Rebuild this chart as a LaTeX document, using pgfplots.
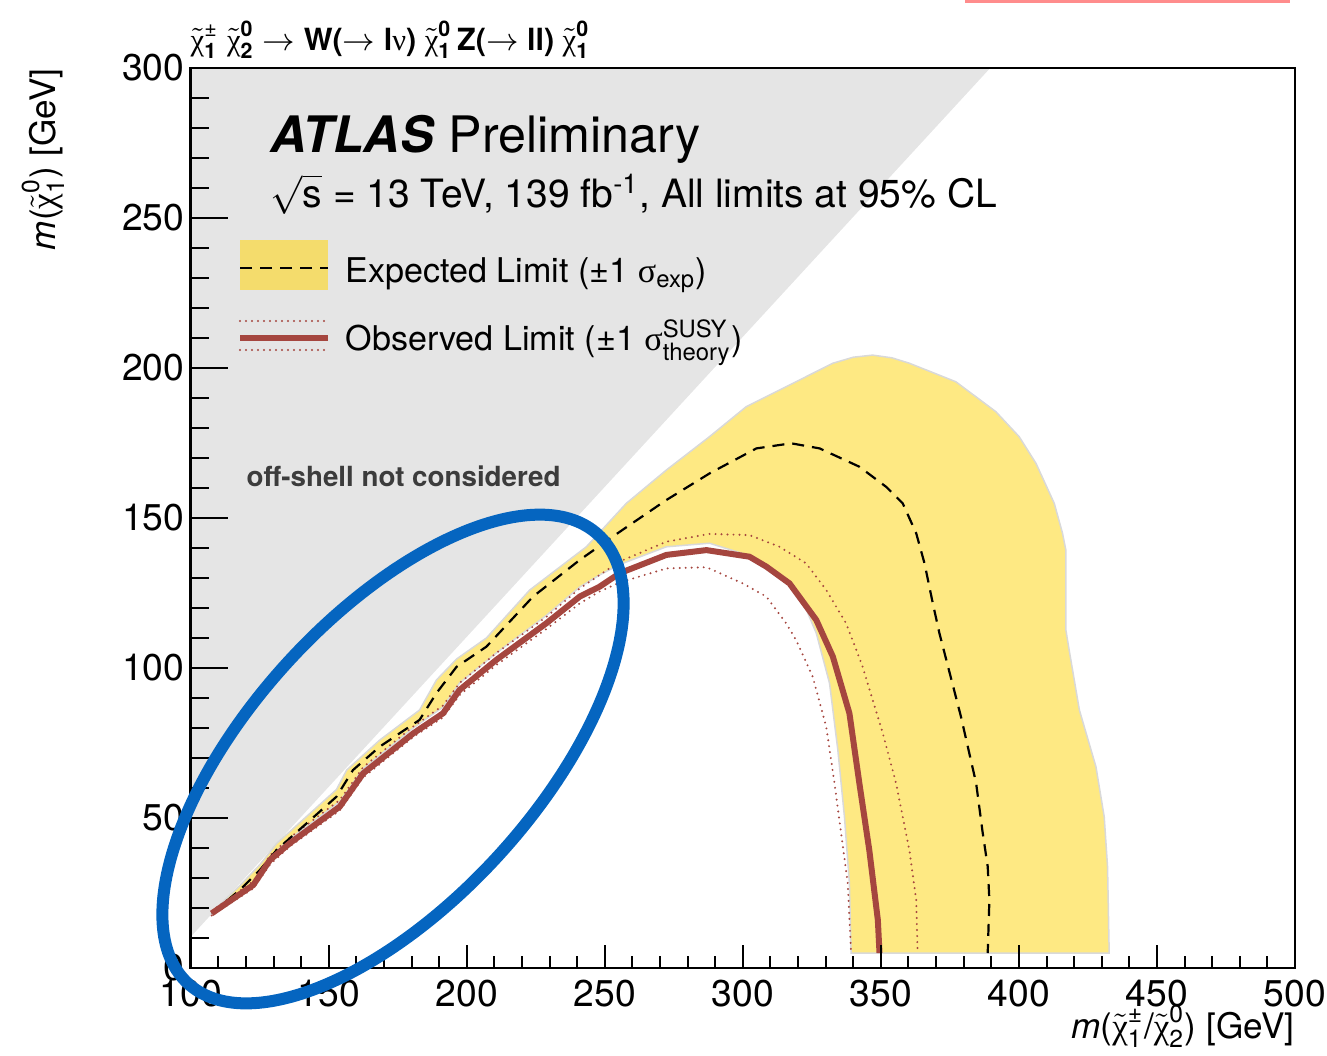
\documentclass[border=0pt]{standalone}
\usepackage{amsmath}
\usepackage{fontspec}
\setmainfont{TeX Gyre Heros}
\newfontfamily\symb{Liberation Serif}
\usepackage{pgfplots}
\pgfplotsset{compat=1.18}
\definecolor{band}{HTML}{FEE983}
\definecolor{bandleg}{HTML}{F4DC6C}
\definecolor{obs}{HTML}{A5463F}
\definecolor{offsh}{HTML}{E5E5E5}
\definecolor{ell}{HTML}{0565C0}
\definecolor{txtgray}{HTML}{3C3C3C}
\newcommand{\chit}[2]{\ensuremath{\tilde{\text{\symb χ}}^{\text{#1}}_{\text{#2}}}}
\tikzset{dotl/.style={obs, line width=0.22mm, line cap=round, dash pattern=on 0pt off 0.6mm}}
\begin{document}
\begin{tikzpicture}
\begin{axis}[
  at={(19.07mm,-96.8mm)}, anchor=south west,
  scale only axis, width=110.43mm, height=90mm,
  xmin=100, xmax=500, ymin=0, ymax=300,
  xtick={100,150,...,500}, ytick={0,50,...,300},
  minor x tick num=4, minor y tick num=4,
  tick align=inside, tick pos=left,
  axis line style={line width=0.25mm},
  every tick/.style={black, line width=0.2mm},
  major tick length=2.3mm, minor tick length=1.2mm,
  ytick style={/pgfplots/major tick length=3.7mm, /pgfplots/minor tick length=1.8mm},
  ticklabel style={font=\fontsize{10.6}{12}\selectfont},
  yticklabel style={xshift=0.6mm},
  /pgf/number format/assume math mode=true,
  axis on top,
]
% off-shell region
\addplot[fill=offsh, draw=none] coordinates {(100,10.4) (389.6,300) (100,300)} -- cycle;
% expected +-1 sigma band
\addplot[fill=band, draw=black!15, line width=0.15mm] coordinates {
(107.6,18.5) (117.8,27.5) (125.1,34.5) (131.1,41.5) (152.8,59.5) (156.5,66)
(168.5,76) (182.9,86) (189,96) (196.3,103) (207.1,110) (222.8,126)
(243.3,140.4) (257.8,154.9) (272.3,166) (287.9,177.1) (301.2,187.1)
(320.5,196) (332.6,201.6) (340,203.6) (347,204.3) (354,203.4) (360.3,201.6) (377.2,195.4)
(391.7,185.4) (400.1,177.1) (406.2,168.2) (412.8,154.9) (415.8,144.9)
(417,139.3) (417,112.7) (418.2,106) (421.9,86) (427.9,67.1) (430.9,50.4)
(432.1,33.8) (432.7,5) (339.2,5) (338.6,28.2) (336.8,50.4) (334.4,72.7)
(331.4,94.9) (326.6,111.6) (320.5,124.9) (312.1,131.6) (303.6,137.1)
(287.9,141.6) (272.3,140.4) (255.4,134.5) (248.1,131) (240.9,127)
(228.8,117.5) (210.7,105) (197.4,95) (191.4,87) (180.6,80) (162.5,66.5)
(154,55.5) (135.9,43) (128.7,37) (122.7,28.5) (107.6,18.2)
} -- cycle;
% observed +1 sigma theory
\addplot[dotl] coordinates {
(107.6,19) (122.7,29) (128.7,37.5) (135.9,43.5) (154,56) (162.5,67)
(180.6,80.5) (191.4,87.5) (197.4,95) (210.7,105) (228.8,117) (240.9,126.5)
(248.1,131) (255.4,135.5) (272.3,142.1) (287.9,144.7) (302.4,144.3)
(313.3,140.4) (322.9,134.9) (330.2,126) (337.4,114.9) (343.4,100.4)
(350.7,78.2) (355.5,61.6) (360.3,39.3) (362.8,22.7) (363.3,5)
};
% observed -1 sigma theory
\addplot[dotl] coordinates {
(107.6,17.5) (122.7,26.5) (128.7,34.5) (135.9,40.5) (154,52.5) (162.5,63.5)
(180.6,77) (191.4,83.5) (197.4,91) (210.7,101) (228.8,113) (240.9,121.5)
(248.1,125.5) (255.4,128.5) (272.3,133.2) (286.8,133.6) (300,128.2)
(308.5,123.8) (315.7,114.9) (319.3,109.3) (325.3,97.1) (330.2,80.4)
(333.2,61.6) (335.6,44.9) (338,28.2) (339.2,5)
};
% expected
\addplot[black, line width=0.22mm, dash pattern=on 1.2mm off 0.8mm] coordinates {
(107.6,18.2) (117.8,26) (125.1,32.7) (131.1,39.3) (152.8,57.1) (158.8,66)
(168.5,73.8) (182.9,82.7) (189,91.6) (196.3,100.4) (207.1,107.1)
(224,123.8) (240.9,136) (255.4,145.4) (272.3,156) (288,164.9) (304.9,173.2)
(317.5,174.9) (327.8,173.2) (342.2,167.1) (351.9,160.4) (357.9,154.9)
(362.8,144.9) (365.8,134.9) (368.8,121.6) (371.2,111.6) (379,83.8)
(384.5,61.6) (386.9,44.9) (388.7,33.8) (389.3,22.7) (388.7,5)
};
% observed
\addplot[obs, line width=0.6mm] coordinates {
(107.6,18.2) (122.7,27.7) (128.7,36) (135.9,41.6) (154,53.8) (162.5,64.9)
(180.6,78.2) (191.4,84.9) (197.4,92.7) (210.7,102.7) (228.8,114.9)
(240.9,123.8) (248.1,127.1) (255.4,131.6) (272.3,137.7) (286.8,139.3)
(302.4,137.1) (308.5,133.8) (316.9,128.2) (326.6,116) (332.6,103.8)
(338.6,84.9) (342.2,61.6) (345.8,39.3) (348.9,16) (349.5,5)
};
\end{axis}
\begin{scope}[x=0.1mm, y=-0.1mm]
% title
\node[anchor=base west, inner sep=0] at (190,50) {\fontsize{8.7}{10}\selectfont
  \chit{±}{\bfseries 1}\;\chit{\bfseries 0}{\bfseries 2} $\rightarrow$ \textbf{W(}$\rightarrow$\textbf{ l}{\symb ν}\textbf{)}
  \chit{\bfseries 0}{\bfseries 1}\,\textbf{Z(}$\rightarrow$\textbf{ ll)} \chit{\bfseries 0}{\bfseries 1}};
% ATLAS
\node[anchor=base west, inner sep=0] at (270,152) {\fontsize{14.3}{17}\selectfont\textbf{\textit{ATLAS}} Preliminary};
\node[anchor=base west, inner sep=0] at (270,207) {\fontsize{11.1}{13}\selectfont$\sqrt{\text{s}}$ = 13 TeV, 139 fb$^{\text{-1}}$, All limits at 95\% CL};
% legend
\fill[bandleg] (240,240) rectangle (328,290);
\draw[black, line width=0.22mm, dash pattern=on 1.2mm off 0.8mm] (240,268) -- (328,268);
\draw[obs, line width=0.6mm] (240,338) -- (328,338);
\draw[dotl] (240,321) -- (328,321);
\draw[dotl] (240,350) -- (328,350);
\node[anchor=base west, inner sep=0] at (345,282) {\fontsize{9.7}{12}\selectfont Expected Limit (±1 {\symb σ}$_{\text{exp}}$)};
\node[anchor=base west, inner sep=0] at (345,350) {\fontsize{9.7}{12}\selectfont Observed Limit (±1 {\symb σ}$^{\text{SUSY}}_{\text{theory}}$)};
\node[anchor=base west, inner sep=0, text=txtgray] at (246,486) {\fontsize{7.9}{10}\selectfont\bfseries off-shell not considered};
% axis labels
\node[anchor=base east, inner sep=0] at (1295,1038) {\fontsize{10}{12}\selectfont\textit{m}(\chit{±}{1}/\chit{0}{2}) [GeV]};
\node[anchor=base east, inner sep=0, rotate=90] at (55,68) {\fontsize{10}{12}\selectfont\textit{m}(\chit{0}{1}) [GeV]};
% annotation
\fill[fill=red!45!white] (965,0) rectangle (1290,2.5);
\end{scope}
\draw[ell, line width=1.2mm, rotate around={47.6:(39.3mm,-75.9mm)}] (39.3mm,-75.9mm) ellipse (30.4mm and 14.3mm);
\pgfresetboundingbox
\path[use as bounding box] (0,0) rectangle (132.7mm,-105.6mm);
\end{tikzpicture}
\end{document}
